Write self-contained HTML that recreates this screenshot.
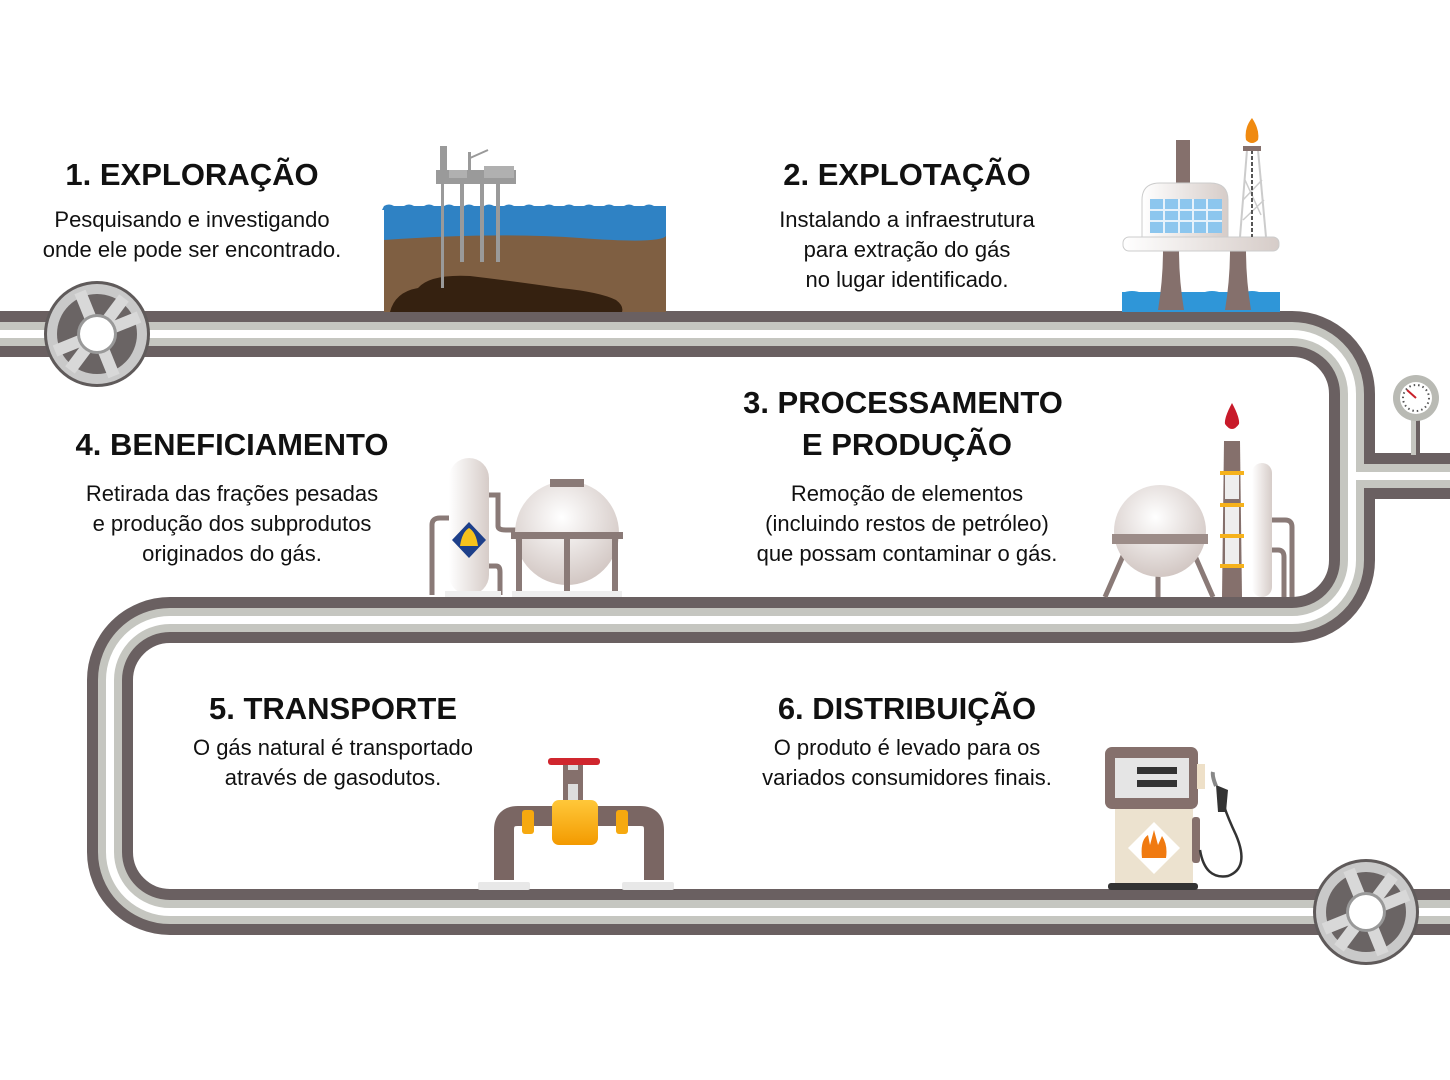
<!DOCTYPE html>
<html><head><meta charset="utf-8"><style>
html,body{margin:0;padding:0;background:#fff;}
svg{display:block;}
.h{font-family:"Liberation Sans",sans-serif;font-weight:bold;font-size:31px;fill:#111;text-anchor:middle;}
.b{font-family:"Liberation Sans",sans-serif;font-size:22px;fill:#111;text-anchor:middle;}
</style></head><body>
<svg width="1450" height="1080" viewBox="0 0 1450 1080" xmlns="http://www.w3.org/2000/svg">
<defs>
<linearGradient id="wg" x1="0" x2="1"><stop offset="0" stop-color="#fff"/><stop offset="1" stop-color="#d6ccc8"/></linearGradient>
<radialGradient id="sg" cx="0.45" cy="0.35" r="0.7"><stop offset="0" stop-color="#fff"/><stop offset="1" stop-color="#cfc3bf"/></radialGradient>
<linearGradient id="og" x1="0" y1="0" x2="0" y2="1"><stop offset="0" stop-color="#ffc83a"/><stop offset="1" stop-color="#f39a00"/></linearGradient>
</defs>

<g fill="none">
<path d="M0,334 H1292 A60,60 0 0 1 1352,394 V560 A60,60 0 0 1 1292,620 H170 A60,60 0 0 0 110,680 V852 A60,60 0 0 0 170,912 H1450" stroke="#6a6061" stroke-width="46"/>
<path d="M1352,476 H1450" stroke="#6a6061" stroke-width="46"/>
<path d="M0,334 H1292 A60,60 0 0 1 1352,394 V560 A60,60 0 0 1 1292,620 H170 A60,60 0 0 0 110,680 V852 A60,60 0 0 0 170,912 H1450" stroke="#c5c6c0" stroke-width="24"/>
<path d="M1352,476 H1450" stroke="#c5c6c0" stroke-width="24"/>
<path d="M0,334 H1292 A60,60 0 0 1 1352,394 V560 A60,60 0 0 1 1292,620 H170 A60,60 0 0 0 110,680 V852 A60,60 0 0 0 170,912 H1450" stroke="#fff" stroke-width="8"/>
<path d="M1352,476 H1450" stroke="#fff" stroke-width="8"/>
</g>
<rect x="1411" y="410" width="9" height="45" fill="#c5c6c0"/>
<rect x="1416" y="410" width="4" height="45" fill="#6a6061"/>
<circle cx="1416" cy="398" r="23" fill="#b9bab4"/>
<circle cx="1416" cy="398" r="16" fill="#fff"/>
<line x1="1416" y1="398" x2="1407" y2="390" stroke="#c8202a" stroke-width="2"/>
<circle cx="1416" cy="398" r="13" fill="none" stroke="#555" stroke-width="2" stroke-dasharray="1.5 3"/>

<g id="wh">
<circle cx="97" cy="334" r="53" fill="#5f5a5a"/>
<circle cx="97" cy="334" r="50" fill="#c9c9c9"/>
<circle cx="97" cy="334" r="40" fill="#6a6464"/>
<g stroke="#d8d8d8" stroke-width="12">
<line x1="97" y1="334" x2="80" y2="292"/><line x1="97" y1="334" x2="139" y2="317"/>
<line x1="97" y1="334" x2="114" y2="376"/><line x1="97" y1="334" x2="55" y2="351"/>
<line x1="97" y1="334" x2="124" y2="298"/><line x1="97" y1="334" x2="70" y2="370"/>
</g>
<circle cx="97" cy="334" r="20" fill="#999"/>
<circle cx="97" cy="334" r="17" fill="#fff"/>
</g>
<use href="#wh" transform="translate(1269,578)"/>

<rect x="384" y="206" width="282" height="40" fill="#2f82c4"/>
<path d="M384,206 q5,-3 10,0 t10,0 t10,0 t10,0 t10,0 t10,0 t10,0 t10,0 t10,0 t10,0 t10,0 t10,0 t10,0 t10,0 t10,0 t10,0 t10,0 t10,0 t10,0 t10,0 t10,0 t10,0 t10,0 t10,0 t10,0 t10,0 t10,0 t10,0 v4 h-282z" fill="#2f82c4"/>
<path d="M384,240 Q500,232 580,238 T666,236 V312 H384Z" fill="#7f5f42"/>
<path d="M390,312 Q395,292 418,288 Q430,274 470,276 Q520,282 560,288 Q600,292 616,300 Q624,306 622,312Z" fill="#352110"/>
<g fill="#9a9a9a">
<rect x="440" y="146" width="7" height="30"/><rect x="436" y="170" width="80" height="14"/>
<rect x="449" y="170" width="18" height="8" fill="#b0b0b0"/><rect x="484" y="166" width="30" height="12" fill="#b0b0b0"/>
<rect x="468" y="152" width="3" height="20"/><line x1="470" y1="158" x2="488" y2="150" stroke="#999" stroke-width="2"/>
<rect x="441" y="184" width="3" height="104"/><rect x="460" y="184" width="4" height="78"/><rect x="480" y="184" width="4" height="78"/><rect x="496" y="184" width="4" height="78"/>
</g>
<rect x="1122" y="292" width="158" height="20" fill="#2f96d8"/>
<path d="M1122,293 q10,-4 20,0 t20,0 t20,0 t20,0 t20,0 t20,0 t20,0 t18,0" fill="#2f96d8"/>
<path d="M1158,310 Q1163,280 1163,250 L1179,250 Q1179,280 1184,310Z" fill="#85706c"/>
<path d="M1225,310 Q1230,280 1230,250 L1246,250 Q1246,280 1251,310Z" fill="#85706c"/>
<rect x="1123" y="237" width="156" height="14" rx="6" fill="url(#wg)" stroke="#ccc"/>
<rect x="1176" y="140" width="14" height="45" fill="#85706c"/>
<path d="M1142,237 V200 Q1142,183 1160,183 H1210 Q1228,183 1228,200 V237Z" fill="url(#wg)" stroke="#ccc"/>
<g fill="#8cc6ee"><rect x="1150" y="199" width="72" height="34"/></g>
<g stroke="#e6f2fb" stroke-width="2"><line x1="1164" y1="199" x2="1164" y2="233"/><line x1="1179" y1="199" x2="1179" y2="233"/><line x1="1193" y1="199" x2="1193" y2="233"/><line x1="1207" y1="199" x2="1207" y2="233"/><line x1="1150" y1="210" x2="1222" y2="210"/><line x1="1150" y1="221" x2="1222" y2="221"/></g>
<path d="M1240,237 L1247,150 H1258 L1266,237" fill="none" stroke="#ccc" stroke-width="2"/>
<path d="M1243,200 L1262,180 M1245,180 L1261,215 M1243,220 L1264,200" stroke="#ccc" stroke-width="1.5"/>
<line x1="1252" y1="150" x2="1252" y2="237" stroke="#555" stroke-width="2" stroke-dasharray="4 2"/>
<rect x="1243" y="146" width="18" height="5" fill="#85706c"/>
<path d="M1252,118 Q1260,130 1258,140 Q1252,146 1246,140 Q1244,128 1252,118Z" fill="#f08a10"/>

<g stroke="#8a7a77" stroke-width="5" fill="none">
<line x1="1130" y1="540" x2="1105" y2="597"/><line x1="1188" y1="540" x2="1213" y2="597"/><line x1="1158" y1="540" x2="1158" y2="597"/>
<path d="M1272,520 H1285 Q1292,520 1292,527 V597"/><path d="M1272,550 H1278 Q1284,550 1284,557 V597"/>
</g>
<circle cx="1160" cy="531" r="46" fill="url(#sg)"/>
<rect x="1112" y="534" width="96" height="10" fill="#9c8c88"/>
<path d="M1224,441 L1240,441 L1242,597 L1222,597Z" fill="#85706c"/>
<rect x="1225" y="473" width="14" height="26" fill="#eee"/><rect x="1225" y="505" width="14" height="30" fill="#eee"/><rect x="1225" y="537" width="14" height="30" fill="#eee"/>
<g fill="#f6b21b"><rect x="1220" y="471" width="24" height="4"/><rect x="1220" y="503" width="24" height="4"/><rect x="1220" y="534" width="24" height="4"/><rect x="1220" y="564" width="24" height="4"/></g>
<path d="M1232,403 Q1240,418 1239,424 Q1232,434 1225,424 Q1224,418 1232,403Z" fill="#c81a2a"/>
<rect x="1252" y="463" width="20" height="134" rx="10" fill="url(#wg)"/>

<g stroke="#8a7a77" stroke-width="5" fill="none">
<path d="M432,595 V525 Q432,518 440,518 H452"/><path d="M488,495 H498 V526 Q498,530 506,530 H520"/><path d="M488,566 H496 Q500,566 500,572 V595"/>
</g>
<rect x="449" y="458" width="40" height="137" rx="20" fill="url(#wg)"/>
<path d="M469,522 L486,540 L469,558 L452,540Z" fill="#1d3f8a"/>
<path d="M460,546 Q462,532 469,528 Q476,532 478,546Z" fill="#f7c21c"/>
<circle cx="567" cy="533" r="52" fill="url(#sg)"/>
<rect x="550" y="479" width="34" height="8" fill="#8a7a77"/>
<rect x="511" y="532" width="112" height="7" fill="#8a7a77"/>
<g fill="#8a7a77"><rect x="516" y="537" width="6" height="58"/><rect x="564" y="537" width="6" height="58"/><rect x="612" y="537" width="6" height="58"/></g>
<rect x="445" y="591" width="56" height="6" fill="#eee"/><rect x="512" y="591" width="110" height="6" fill="#eee"/>

<path d="M504,880 V830 Q504,816 518,816 H640 Q654,816 654,830 V880" fill="none" stroke="#7a6663" stroke-width="20"/>
<rect x="522" y="810" width="12" height="24" rx="3" fill="#f6a90f"/><rect x="616" y="810" width="12" height="24" rx="3" fill="#f6a90f"/>
<rect x="563" y="765" width="20" height="36" fill="#85706c"/>
<rect x="568" y="760" width="10" height="40" fill="#ddd"/>
<rect x="564" y="770" width="18" height="14" rx="3" fill="#85706c"/>
<rect x="548" y="758" width="52" height="7" rx="3" fill="#d0262e"/>
<rect x="552" y="800" width="46" height="45" rx="7" fill="url(#og)"/>
<rect x="478" y="882" width="52" height="8" rx="2" fill="#e8e8e8"/><rect x="622" y="882" width="52" height="8" rx="2" fill="#e8e8e8"/>

<rect x="1105" y="747" width="93" height="62" rx="7" fill="#85706c"/>
<rect x="1115" y="758" width="74" height="40" fill="#e5e5e5"/>
<g fill="#333"><rect x="1137" y="767" width="40" height="7"/><rect x="1137" y="780" width="40" height="7"/></g>
<rect x="1197" y="764" width="8" height="25" fill="#eee0c8"/>
<rect x="1115" y="809" width="78" height="74" fill="#ece2cf"/>
<rect x="1192" y="817" width="8" height="46" rx="3" fill="#85706c"/>
<path d="M1154,822 L1180,848 L1154,874 L1128,848Z" fill="#fff"/>
<path d="M1142,858 Q1140,840 1148,835 L1150,845 L1154,830 L1158,845 L1162,836 Q1168,845 1166,858Z" fill="#f07a10"/>
<rect x="1108" y="883" width="90" height="7" rx="3" fill="#333"/>
<path d="M1200,850 Q1205,880 1228,876 Q1250,868 1236,835 Q1228,818 1224,806" fill="none" stroke="#333" stroke-width="2.5"/>
<path d="M1216,785 L1228,790 L1226,812 L1218,812Z" fill="#333"/>
<path d="M1216,786 Q1212,776 1213,772" fill="none" stroke="#888" stroke-width="4"/>

<text class="h" x="192" y="185">1. EXPLORAÇÃO</text>
<text class="b" x="192" y="227">Pesquisando e investigando</text>
<text class="b" x="192" y="257">onde ele pode ser encontrado.</text>

<text class="h" x="907" y="185">2. EXPLOTAÇÃO</text>
<text class="b" x="907" y="227">Instalando a infraestrutura</text>
<text class="b" x="907" y="257">para extração do gás</text>
<text class="b" x="907" y="287">no lugar identificado.</text>

<text class="h" x="903" y="413">3. PROCESSAMENTO</text>
<text class="h" x="907" y="455">E PRODUÇÃO</text>
<text class="b" x="907" y="501">Remoção de elementos</text>
<text class="b" x="907" y="531">(incluindo restos de petróleo)</text>
<text class="b" x="907" y="561">que possam contaminar o gás.</text>

<text class="h" x="232" y="455">4. BENEFICIAMENTO</text>
<text class="b" x="232" y="501">Retirada das frações pesadas</text>
<text class="b" x="232" y="531">e produção dos subprodutos</text>
<text class="b" x="232" y="561">originados do gás.</text>

<text class="h" x="333" y="719">5. TRANSPORTE</text>
<text class="b" x="333" y="755">O gás natural é transportado</text>
<text class="b" x="333" y="785">através de gasodutos.</text>

<text class="h" x="907" y="719">6. DISTRIBUIÇÃO</text>
<text class="b" x="907" y="755">O produto é levado para os</text>
<text class="b" x="907" y="785">variados consumidores finais.</text>
</svg>
</body></html>
